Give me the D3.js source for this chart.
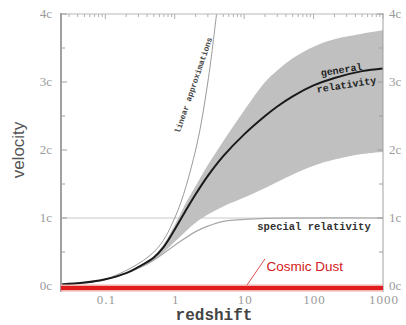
<!DOCTYPE html>
<html>
<head>
<meta charset="utf-8">
<script src="https://cdn.jsdelivr.net/npm/d3@7"></script>
<style>
  body { margin: 0; background: #fff; }
  svg { display: block; }
</style>
</head>
<body>
<div id="chart"></div>
<script>
// axis ticks
const xTicks = [0.1, 1, 10, 100, 1000];
const yTicks = [0, 1, 2, 3, 4];
const yTickLabels = ['0c', '1c', '2c', '3c', '4c'];

// general relativity curve
const grZ = [0.023, 0.05, 0.1, 0.2, 0.3, 0.5, 0.7, 1, 1.5, 2, 3, 5, 10, 20, 30, 50, 100, 200, 500, 1000];
const grV = [0.023, 0.05, 0.1, 0.19, 0.28, 0.42, 0.58, 0.83, 1.14, 1.35, 1.62, 1.91, 2.23, 2.5, 2.64, 2.79, 2.95, 3.06, 3.16, 3.2];

// shaded range round the general relativity curve
const bandZ = [0.2, 0.3, 0.5, 0.7, 1, 1.5, 2, 3, 5, 10, 20, 30, 50, 100, 200, 500, 1000];
const bandHi = [0.19, 0.29, 0.44, 0.62, 0.9, 1.25, 1.47, 1.78, 2.13, 2.58, 3.0, 3.17, 3.35, 3.52, 3.63, 3.71, 3.76];
const bandLo = [0.19, 0.27, 0.38, 0.5, 0.65, 0.82, 0.93, 1.05, 1.17, 1.3, 1.44, 1.53, 1.64, 1.77, 1.86, 1.94, 1.97];

// linear approximation
const linZ = [0.023, 0.1, 0.5, 1, 2, 3, 4];
const linV = [0.023, 0.1, 0.5, 1, 2, 3, 4];

// special relativity
const srZ = [0.023, 0.1, 0.3, 0.5, 1, 2, 3, 5, 10, 20, 1000];
const srV = [0.023, 0.095, 0.26, 0.38, 0.6, 0.8, 0.88, 0.95, 0.98, 0.995, 1.0];

// cosmic dust line
const dustZ = [0.023, 1000];
const dustV = [-0.03, -0.03];

const W = 406, H = 325;
const svg = d3.select('#chart').append('svg').attr('width', W).attr('height', H);

const x = d3.scaleLog().domain([0.023, 1000]).range([61, 383]);
const y = d3.scaleLinear().domain([0, 4]).range([286, 14]);
const yBottom = y(-0.06);

const pts = (zs, vs) => zs.map((z, i) => [z, vs[i]]);
const smooth = d3.curveCatmullRom.alpha(0.5);
const line = d3.line().x(d => x(d[0])).y(d => y(d[1])).curve(smooth);

// 1c reference line
svg.append('line')
  .attr('x1', x.range()[0]).attr('x2', x.range()[1])
  .attr('y1', y(1)).attr('y2', y(1))
  .attr('stroke', '#c8c8c8').attr('stroke-width', 1);

// band
const band = d3.area()
  .x(d => x(d[0]))
  .y0(d => y(d[2]))
  .y1(d => y(d[1]))
  .curve(smooth);
svg.append('path')
  .datum(bandZ.map((z, i) => [z, bandHi[i], bandLo[i]]))
  .attr('d', band)
  .attr('fill', '#c0c0c0');

// linear approximations
svg.append('path')
  .datum(pts(linZ, linV))
  .attr('d', line)
  .attr('fill', 'none')
  .attr('stroke', '#9a9a9a')
  .attr('stroke-width', 1);

// special relativity
svg.append('path')
  .datum(pts(srZ, srV))
  .attr('d', line)
  .attr('fill', 'none')
  .attr('stroke', '#a8a8a8')
  .attr('stroke-width', 1.2);

// general relativity
svg.append('path')
  .datum(pts(grZ, grV))
  .attr('d', line)
  .attr('fill', 'none')
  .attr('stroke', '#1a1a1a')
  .attr('stroke-width', 2);

// frame
const axisCol = '#a0a0a0';
svg.append('line')
  .attr('x1', x.range()[0]).attr('x2', x.range()[0])
  .attr('y1', y(4) - 1).attr('y2', yBottom + 2)
  .attr('stroke', axisCol).attr('stroke-width', 2);
svg.append('line')
  .attr('x1', x.range()[1]).attr('x2', x.range()[1])
  .attr('y1', y(4) - 1).attr('y2', yBottom + 2)
  .attr('stroke', axisCol).attr('stroke-width', 1);
svg.append('line')
  .attr('x1', x.range()[0]).attr('x2', x.range()[1])
  .attr('y1', y(4)).attr('y2', y(4))
  .attr('stroke', '#b8b8b8').attr('stroke-width', 1);

// minor log ticks along the top
svg.append('g')
  .selectAll('line')
  .data(x.ticks())
  .enter()
  .append('line')
  .attr('x1', d => x(d)).attr('x2', d => x(d))
  .attr('y1', y(4)).attr('y2', d => y(4) + (xTicks.includes(d) ? 5 : 3))
  .attr('stroke', '#b0b0b0').attr('stroke-width', 1);

// decade ticks along the bottom
svg.append('g')
  .selectAll('line')
  .data(xTicks)
  .enter()
  .append('line')
  .attr('x1', d => x(d)).attr('x2', d => x(d))
  .attr('y1', yBottom).attr('y2', yBottom - 5)
  .attr('stroke', '#b0b0b0').attr('stroke-width', 1);

// y ticks both sides (major + half steps)
const yMinor = d3.range(0, 4.01, 0.5);
['left', 'right'].forEach(side => {
  const x0 = side === 'left' ? x.range()[0] : x.range()[1];
  const dir = side === 'left' ? 1 : -1;
  svg.append('g')
    .selectAll('line')
    .data(yMinor)
    .enter()
    .append('line')
    .attr('x1', x0).attr('x2', d => x0 + dir * (Number.isInteger(d) ? 6 : 4))
    .attr('y1', d => y(d)).attr('y2', d => y(d))
    .attr('stroke', axisCol).attr('stroke-width', 1);
});

// y tick labels
const tickFont = 'Liberation Serif, DejaVu Serif, serif';
[[52, 'end'], [389, 'start']].forEach(([tx, anchor]) => {
  svg.append('g')
    .selectAll('text')
    .data(yTicks)
    .enter()
    .append('text')
    .attr('x', tx)
    .attr('y', d => y(d) + 4)
    .attr('text-anchor', anchor)
    .attr('font-family', tickFont)
    .attr('font-size', 13)
    .attr('fill', '#9a9a9a')
    .text((d, i) => yTickLabels[i]);
});

// x tick labels
svg.append('g')
  .selectAll('text')
  .data(xTicks)
  .enter()
  .append('text')
  .attr('x', d => x(d) + 1)
  .attr('y', 304)
  .attr('text-anchor', 'middle')
  .attr('font-family', tickFont)
  .attr('font-size', 13)
  .attr('letter-spacing', 1)
  .attr('fill', '#9a9a9a')
  .text(d => d);

// cosmic dust line
svg.append('path')
  .datum(pts(dustZ, dustV))
  .attr('d', line)
  .attr('stroke', '#f4b0b0')
  .attr('stroke-width', 7)
  .attr('fill', 'none');
svg.append('path')
  .datum(pts(dustZ, dustV))
  .attr('d', line)
  .attr('stroke', '#e01c1c')
  .attr('stroke-width', 4)
  .attr('fill', 'none');

// leader + label for dust
svg.append('line')
  .attr('x1', x(11)).attr('y1', y(dustV[0]) - 3)
  .attr('x2', x(20)).attr('y2', y(0.4))
  .attr('stroke', '#e05050').attr('stroke-width', 1);
svg.append('text')
  .attr('x', x(21))
  .attr('y', 271)
  .attr('font-family', 'Liberation Sans, Arial, sans-serif')
  .attr('font-size', 13.5)
  .attr('fill', '#d42020')
  .text('Cosmic Dust');

// curve labels
const monoFont = 'Liberation Mono, DejaVu Sans Mono, monospace';
svg.append('text')
  .attr('transform', 'translate(196,86) rotate(-71)')
  .attr('text-anchor', 'middle')
  .attr('font-family', monoFont)
  .attr('font-weight', 'bold')
  .attr('font-size', 8)
  .attr('fill', '#444')
  .text('linear approximations');

svg.append('text')
  .attr('transform', 'translate(342,73) rotate(-9)')
  .attr('text-anchor', 'middle')
  .attr('font-family', monoFont)
  .attr('font-weight', 'bold')
  .attr('font-size', 10)
  .attr('fill', '#222')
  .text('general');
svg.append('text')
  .attr('transform', 'translate(347,88) rotate(-9)')
  .attr('text-anchor', 'middle')
  .attr('font-family', monoFont)
  .attr('font-weight', 'bold')
  .attr('font-size', 10)
  .attr('fill', '#222')
  .text('relativity');

svg.append('text')
  .attr('x', 314)
  .attr('y', 230)
  .attr('text-anchor', 'middle')
  .attr('font-family', monoFont)
  .attr('font-weight', 'bold')
  .attr('font-size', 10.5)
  .attr('fill', '#333')
  .text('special relativity');

// axis titles
svg.append('text')
  .attr('transform', 'translate(24,150) rotate(-90)')
  .attr('text-anchor', 'middle')
  .attr('font-family', 'Liberation Sans, Arial, sans-serif')
  .attr('font-size', 17)
  .attr('fill', '#555')
  .text('velocity');

svg.append('text')
  .attr('x', 214)
  .attr('y', 320)
  .attr('text-anchor', 'middle')
  .attr('font-family', monoFont)
  .attr('font-weight', 'bold')
  .attr('font-size', 16)
  .attr('fill', '#444')
  .text('redshift');
</script>
</body>
</html>
